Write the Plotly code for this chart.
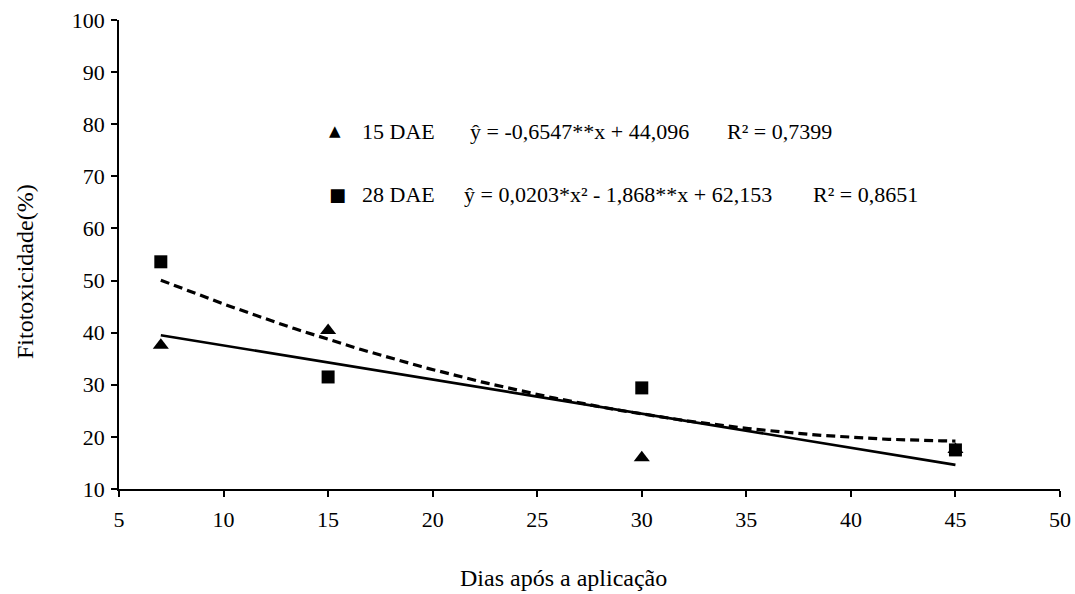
import numpy as np
import plotly.graph_objects as go

# Data
dias = [7, 15, 30, 45]
dae15 = [37.6, 40.4, 16.0, 17.6]
dae28 = [53.6, 31.5, 29.4, 17.5]

# Regression coefficients shown on the chart
coef15 = [-0.6547, 44.096]            # linear: a*x + b
coef28 = [0.0203, -1.868, 62.153]     # quadratic: a*x^2 + b*x + c

x_fit = np.linspace(dias[0], dias[-1], 120)
y15_fit = np.polyval(coef15, x_fit)
y28_fit = np.polyval(coef28, x_fit)

x_ticks = [5, 10, 15, 20, 25, 30, 35, 40, 45, 50]
y_ticks = [10, 20, 30, 40, 50, 60, 70, 80, 90, 100]

FONT = "Times New Roman, Liberation Serif, serif"

fig = go.Figure()
fig.add_trace(go.Scatter(x=x_fit, y=y15_fit, mode="lines",
                         line=dict(color="black", width=2.6), showlegend=False, hoverinfo="skip"))
fig.add_trace(go.Scatter(x=x_fit, y=y28_fit, mode="lines",
                         line=dict(color="black", width=3.2, dash="9px,5px"), showlegend=False, hoverinfo="skip"))
fig.add_trace(go.Scatter(x=dias, y=dae15, mode="markers", name="15 DAE",
                         marker=dict(symbol="triangle-up", size=14, color="black"), showlegend=False))
fig.add_trace(go.Scatter(x=dias, y=dae28, mode="markers", name="28 DAE",
                         marker=dict(symbol="square", size=13, color="black"), showlegend=False))

W, H = 1075, 594
L, R, T, B = 119, 15, 20, 105
pw, ph = W - L - R, H - T - B

def px(x):
    return (x - L) / pw

def py(y):
    return (H - B - y) / ph

tf = dict(family=FONT, size=22, color="black")
ann = []
ann.append(dict(x=px(335), y=py(131), text="▲", font=dict(family="DejaVu Sans", size=15, color="black"), xanchor="center", yanchor="middle"))
ann.append(dict(x=px(337), y=py(195), text="■", font=dict(family="DejaVu Sans", size=18, color="black"), xanchor="center", yanchor="middle"))
ann.append(dict(x=px(360), y=py(131), text="15 DAE", font=tf, xanchor="left", yanchor="middle"))
ann.append(dict(x=px(360), y=py(195), text="28 DAE", font=tf, xanchor="left", yanchor="middle"))
ann.append(dict(x=px(468), y=py(131), text="ŷ = -0,6547**x + 44,096", font=tf, xanchor="left", yanchor="middle"))
ann.append(dict(x=px(725), y=py(131), text="R² = 0,7399", font=tf, xanchor="left", yanchor="middle"))
ann.append(dict(x=px(462), y=py(195), text="ŷ = 0,0203*x² - 1,868**x + 62,153", font=tf, xanchor="left", yanchor="middle"))
ann.append(dict(x=px(811), y=py(195), text="R² = 0,8651", font=tf, xanchor="left", yanchor="middle"))
ann.append(dict(x=px(563), y=py(578), text="Dias após a aplicação", font=dict(family=FONT, size=24, color="black"),
                xanchor="center", yanchor="middle"))
ann.append(dict(x=px(25), y=py(272), text="Fitotoxicidade(%)", textangle=-90, font=dict(family=FONT, size=24, color="black"),
                xanchor="center", yanchor="middle"))
for a in ann:
    a.update(xref="paper", yref="paper", showarrow=False)

axis_common = dict(showgrid=False, zeroline=False, showline=True, linecolor="black", linewidth=1.6,
                   ticks="outside", ticklen=6, tickcolor="black", tickwidth=1.6, automargin=False,
                   ticklabeloverflow="allow",
                   tickfont=dict(family=FONT, size=22, color="black"))

fig.update_layout(
    width=W, height=H,
    margin=dict(l=L, r=R, t=T, b=B, autoexpand=False),
    plot_bgcolor="white", paper_bgcolor="white",
    xaxis=dict(range=[5, 50], tickvals=x_ticks, ticktext=[str(v) for v in x_ticks],
               ticklabelstandoff=4, **axis_common),
    yaxis=dict(range=[10, 100], tickvals=y_ticks, ticktext=[str(v) for v in y_ticks],
               ticklabelstandoff=2, **axis_common),
    annotations=ann,
    showlegend=False,
)

fig.write_html("out.html", config={"displayModeBar": False},
               post_script="document.body.style.margin='0';document.body.style.overflow='hidden';")
